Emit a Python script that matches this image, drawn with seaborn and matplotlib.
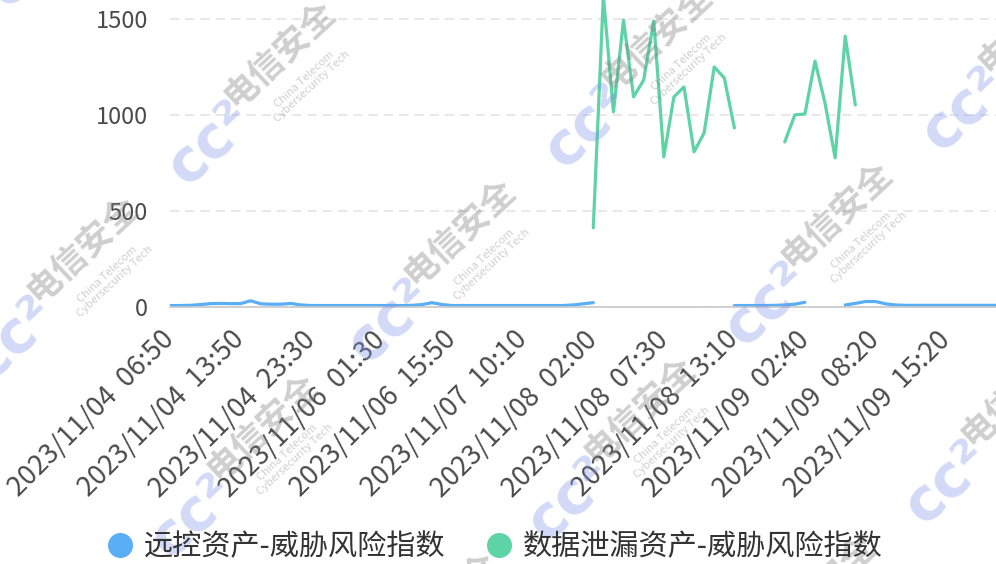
import numpy as np
import pandas as pd
import matplotlib
matplotlib.use("Agg")
import matplotlib.pyplot as plt
from matplotlib.lines import Line2D
from matplotlib.transforms import ScaledTranslation
import seaborn as sns

# ---------------------------
# Data
# ---------------------------

n_points = 84
tick_step = 7

tick_labels = [
    "2023/11/04  06:50", "2023/11/04  13:50", "2023/11/04  23:30",
    "2023/11/06  01:30", "2023/11/06  15:50", "2023/11/07  10:10",
    "2023/11/08  02:00", "2023/11/08  07:30", "2023/11/08  13:10",
    "2023/11/09  02:40", "2023/11/09  08:20", "2023/11/09  15:20",
]

series_names = ["远控资产-威胁风险指数", "数据泄漏资产-威胁风险指数"]
series_colors = ["#5aaef5", "#5dd3a6"]

# 远控资产 (index 0..83, None = no data)
remote_values = [
    5, 5, 6, 10, 15, 16, 15, 15, 30, 14, 12, 12, 16, 8, 5, 5, 5, 5, 5, 5,
    5, 5, 5, 5, 6, 10, 20, 10, 5, 5, 5, 5, 5, 5, 5, 5, 5, 5, 5, 5,
    8, 14, 20,
    None, None, None, None, None, None, None, None, None, None, None, None, None,
    5, 5, 5, 5, 6, 8, 12, 22,
    None, None, None,
    8, 16, 26, 26, 14, 8, 6, 6, 6, 6, 6, 6, 6, 6, 6, 6, 6,
]

# 数据泄漏资产 (starts at index 42)
leak_start = 42
leak_values = [
    411, 1620, 1016, 1495, 1094, 1182, 1490, 781, 1094, 1146, 807, 906,
    1250, 1193, 932,
    None, None, None, None,
    859, 1000, 1005, 1281, 1060, 776, 1411, 1052,
]


def to_long(values, start, name):
    rows = []
    seg = 0
    prev_none = True
    for k, v in enumerate(values):
        if v is None:
            prev_none = True
            continue
        if prev_none:
            seg += 1
            prev_none = False
        rows.append({"idx": start + k, "value": v, "series": name,
                     "segment": f"{name}_{seg}"})
    return rows


df = pd.DataFrame(
    to_long(remote_values, 0, series_names[0])
    + to_long(leak_values, leak_start, series_names[1])
)

# ---------------------------
# Plot
# ---------------------------

sns.set_theme(style="white")
plt.rcParams["font.family"] = ["Noto Sans CJK SC", "DejaVu Sans"]

fig = plt.figure(figsize=(9.96, 5.64), dpi=100)

px_per_idx = 10.078
px_per_500 = 95.8
ax = fig.add_axes([
    170 / 996,
    257.5 / 564,
    (n_points - 1) * px_per_idx / 996,
    4 * px_per_500 / 564,
])

sns.lineplot(
    data=df,
    x="idx",
    y="value",
    hue="series",
    units="segment",
    estimator=None,
    sort=False,
    palette=dict(zip(series_names, series_colors)),
    linewidth=2.3,
    legend=False,
    ax=ax,
)

ax.set_xlim(0, n_points - 1)
ax.set_ylim(0, 2000)
ax.set_xlabel("")
ax.set_ylabel("")

ax.set_yticks([0, 500, 1000, 1500])
ax.yaxis.grid(True, color="#e2e2e2", linewidth=1.1, linestyle=(0, (6, 4)))
ax.set_axisbelow(True)

ax.set_xticks(np.arange(len(tick_labels)) * tick_step)
ax.set_xticklabels(tick_labels, rotation=45, ha="right", va="center",
                   rotation_mode="anchor")
shift = ScaledTranslation(4 / 100, 0, fig.dpi_scale_trans)
for lbl in ax.get_xticklabels():
    lbl.set_transform(lbl.get_transform() + shift)

for side in ["top", "right", "left"]:
    ax.spines[side].set_visible(False)
ax.spines["bottom"].set_color("#c8c8c8")
ax.spines["bottom"].set_linewidth(1.2)

ax.tick_params(axis="x", length=4, width=1.2, color="#c8c8c8",
               labelsize=19.5, labelcolor="#4a4a4a", pad=17)
ax.tick_params(axis="y", length=0, labelsize=17, labelcolor="#4a4a4a",
               pad=16)

handles = [
    Line2D([0], [0], marker="o", linestyle="", markersize=17, color=c)
    for c in series_colors
]
fig.legend(
    handles,
    series_names,
    loc="center",
    bbox_to_anchor=(0.496, 1 - 547 / 564),
    ncol=2,
    frameon=False,
    fontsize=21,
    handlelength=1.0,
    handletextpad=0.33,
    columnspacing=1.33,
    labelcolor="#333333",
)

# watermark tiles
for m in range(-2, 4):
    for n in range(-2, 4):
        cx = 280 + m * 180 + n * 377
        cy = 55 + m * 178 - n * 17
        if -150 < cx < 1150 and -150 < cy < 720:
            fig.text(cx / 996, 1 - cy / 564, "电信安全", fontsize=25,
                     fontweight="bold", color="#808080", alpha=0.38,
                     rotation=43, ha="center", va="center")
            fig.text((cx + 28) / 996, 1 - (cy + 28) / 564,
                     "China Telecom\nCybersecurity Tech", fontsize=8,
                     color="#808080", alpha=0.38, rotation=43,
                     ha="center", va="center", linespacing=1.0)
            fig.text((cx - 70) / 996, 1 - (cy + 88) / 564, "cc²",
                     fontsize=42, fontweight="heavy", color="#7f94e8",
                     alpha=0.35, rotation=43, ha="center", va="center",
                     family=["DejaVu Sans"])

fig.savefig("out.png", dpi=100)
